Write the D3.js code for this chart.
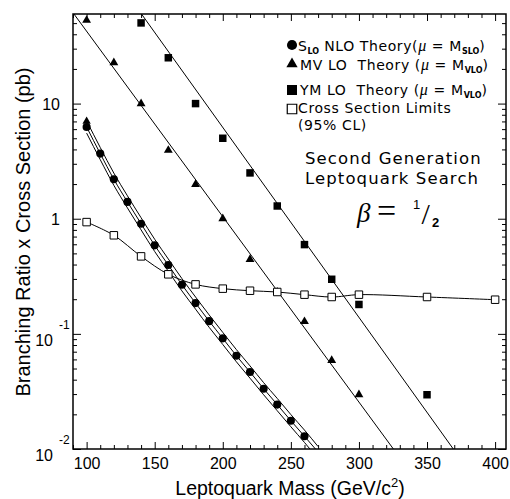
<html>
<head>
<script src="https://d3js.org/d3.v7.min.js"></script>
<style>
  body { margin: 0; background: #fff; }
  .fit { fill: none; stroke: #000; stroke-width: 1px; }
  .tick line { stroke: #000; stroke-width: 1px; }
  .lbl { font-family: "Liberation Sans", Arial, sans-serif; }
  .leg { font-family: "DejaVu Sans", sans-serif; }
</style>
</head>
<body>
<script>
// S_LO NLO theory points (circles) and band
var nloMass = [100,110,120,130,140,150,160,170,180,190,200,210,220,230,240,250,260];
var nloXsec = [6.26,3.68,2.2,1.40,0.905,0.587,0.396,0.267,0.185,0.129,0.0914,0.0646,0.0466,0.0334,0.0243,0.0176,0.0129];
var bandMass = [100,110,120,130,140,150,160,170,180,190,200,210,220,230,240,250,260,270];
var nloCentral = [6.26,3.68,2.2,1.40,0.905,0.587,0.396,0.267,0.185,0.129,0.0914,0.0646,0.0466,0.0334,0.0243,0.0176,0.0129,0.0094];
var nloUpper = [7.07,4.16,2.49,1.58,1.02,0.663,0.447,0.302,0.209,0.146,0.103,0.073,0.0527,0.0377,0.0275,0.0199,0.0146,0.0105];
var nloLower = [5.54,3.26,1.95,1.24,0.80,0.519,0.350,0.236,0.164,0.114,0.0809,0.0572,0.0412,0.0296,0.0215,0.0156,0.0114,0.0082];
var bandTipMass = [100];
var bandTip = [7.0];

// MV LO theory (triangles) and its fit
var mvMass = [100,120,140,160,180,200,220,240,260,280,300];
var mvXsec = [52.9,22.7,10.0,3.93,1.99,1.0,0.443,0.231,0.128,0.0589,0.0297];
var mvFitMass = [90.7, 325.3];
var mvFit = [60, 0.01];

// YM LO theory (filled squares) and its fit
var ymMass = [140,160,180,200,220,240,260,280,300,350];
var ymXsec = [50.2,25,10,5.0,2.5,1.29,0.596,0.298,0.18,0.0296];
var ymFitMass = [140.3, 369.3];
var ymFit = [60, 0.01];

// 95% CL cross section limits (open squares)
var limMass = [100,120,140,160,180,200,220,240,260,280,300,350,400];
var limXsec = [0.935,0.718,0.471,0.329,0.269,0.247,0.237,0.231,0.219,0.209,0.219,0.209,0.198];

var xMajor = [100,150,200,250,300,350,400];
var yMajor = [10, 1, 0.1, 0.01];
var yLabels = [["10",""],["1",""],["10","-1"],["10","-2"]];

var W = 510, H = 499;
var L = 73, R = 506, T = 14, B = 449;

var svg = d3.select("body").append("svg").attr("width", W).attr("height", H);

var x = d3.scaleLinear().domain([90, 408]).range([L, R]);
var y = d3.scaleLog().domain([0.01, 60]).range([B, T]);

var xMinor = d3.range(90, 409, 10).filter(function(v){ return xMajor.indexOf(v) < 0; });
var yMinor = y.ticks().filter(function(v){ return yMajor.indexOf(v) < 0 && v < 60; });

svg.append("clipPath").attr("id", "clip")
   .append("rect").attr("x", L).attr("y", T).attr("width", R - L).attr("height", B - T);

// axes (ticks pointing inward on all four sides)
function axisG(gen, tx, ty) {
    var g = svg.append("g").attr("transform", "translate(" + tx + "," + ty + ")").call(gen);
    g.select(".domain").remove();
    return g;
}
var bot = axisG(d3.axisBottom(x).tickValues(xMajor).tickSize(-7).tickPadding(9), 0, B);
bot.selectAll("text").attr("class", "lbl").style("font-size", "16px").attr("fill", "#000");
axisG(d3.axisBottom(x).tickValues(xMinor).tickSize(-4).tickFormat(""), 0, B);
axisG(d3.axisTop(x).tickValues(xMajor).tickSize(-7).tickFormat(""), 0, T);
axisG(d3.axisTop(x).tickValues(xMinor).tickSize(-4).tickFormat(""), 0, T);
axisG(d3.axisLeft(y).tickValues(yMajor).tickSize(-8).tickFormat(""), L, 0);
axisG(d3.axisLeft(y).tickValues(yMinor).tickSize(-4).tickFormat(""), L, 0);
axisG(d3.axisRight(y).tickValues(yMajor).tickSize(-8).tickFormat(""), R, 0);
axisG(d3.axisRight(y).tickValues(yMinor).tickSize(-4).tickFormat(""), R, 0);

// y tick labels with exponents
yMajor.forEach(function(v, i) {
    var lab = yLabels[i];
    if (lab[1] === "") {
        svg.append("text").attr("class", "lbl").attr("x", 60).attr("y", y(v) + 6)
           .attr("text-anchor", "end").style("font-size", "16px").text(lab[0]);
    } else {
        svg.append("text").attr("class", "lbl").attr("x", 53).attr("y", y(v) + 12)
           .attr("text-anchor", "end").style("font-size", "16px").text(lab[0]);
        svg.append("text").attr("class", "lbl").attr("x", 59).attr("y", y(v) - 5)
           .style("font-size", "12px").text(lab[1]);
    }
});

svg.append("rect").attr("x", L).attr("y", T).attr("width", R - L).attr("height", B - T)
   .attr("fill", "none").attr("stroke", "#000").attr("stroke-width", 1.5);

// axis titles
var xt = svg.append("text").attr("class", "lbl").attr("x", 290).attr("y", 495)
   .attr("text-anchor", "middle").style("font-size", "19.5px");
xt.append("tspan").text("Leptoquark Mass (GeV/c");
xt.append("tspan").attr("dy", -8).style("font-size", "13px").text("2");
xt.append("tspan").attr("dy", 8).text(")");

svg.append("text").attr("class", "lbl")
   .attr("transform", "translate(30,232) rotate(-90)")
   .attr("text-anchor", "middle").style("font-size", "20px")
   .text("Branching Ratio x Cross Section (pb)");

var plot = svg.append("g").attr("clip-path", "url(#clip)");

function pts(ms, vs) { return ms.map(function(m, i){ return [m, vs[i]]; }); }
var straight = d3.line().x(function(d){ return x(d[0]); }).y(function(d){ return y(d[1]); });
var smooth = d3.line().curve(d3.curveMonotoneX)
               .x(function(d){ return x(d[0]); }).y(function(d){ return y(d[1]); });

plot.append("path").attr("class", "fit").attr("d", straight(pts(mvFitMass, mvFit)));
plot.append("path").attr("class", "fit").attr("d", straight(pts(ymFitMass, ymFit)));
plot.append("path").attr("class", "fit").attr("d", smooth(pts(bandMass, nloCentral)));
plot.append("path").attr("class", "fit").attr("d", smooth(pts(bandMass, nloUpper)));
plot.append("path").attr("class", "fit").attr("d", smooth(pts(bandMass, nloLower)));
plot.append("path").attr("class", "fit").attr("d",
    d3.line().curve(d3.curveCatmullRom).x(function(d){ return x(d[0]); }).y(function(d){ return y(d[1]); })(pts(limMass, limXsec)));

function markers(ms, vs, type, size, filled) {
    plot.selectAll(null).data(pts(ms, vs)).enter().append("path")
        .attr("transform", function(d){ return "translate(" + x(d[0]) + "," + y(d[1]) + ")"; })
        .attr("d", d3.symbol().type(type).size(size))
        .attr("fill", filled ? "#000" : "#fff")
        .attr("stroke", "#000").attr("stroke-width", filled ? 0 : 1);
}
markers(bandTipMass, bandTip, d3.symbolTriangle, 30, true);
markers(nloMass, nloXsec, d3.symbolCircle, 52, true);
markers(mvMass, mvXsec, d3.symbolTriangle, 34, true);
markers(ymMass, ymXsec, d3.symbolSquare, 56, true);
markers(limMass, limXsec, d3.symbolSquare, 56, false);

// legend
var legSym = [
    [d3.symbolCircle, 80, true, 45],
    [d3.symbolTriangle, 55, true, 64],
    [d3.symbolSquare, 100, true, 90],
    [d3.symbolSquare, 90, false, 109]
];
legSym.forEach(function(s) {
    svg.append("path").attr("transform", "translate(292," + s[3] + ")")
       .attr("d", d3.symbol().type(s[0]).size(s[1]))
       .attr("fill", s[2] ? "#000" : "#fff").attr("stroke", "#000").attr("stroke-width", s[2] ? 0 : 1.2);
});

function legText(xp, yp, parts) {
    var t = svg.append("text").attr("class", "leg").attr("x", xp).attr("y", yp)
               .style("font-size", "14px").style("letter-spacing", "0.6px");
    var shift = 0;
    parts.forEach(function(p) {
        var sp = t.append("tspan").text(p[0]);
        var want = p[1] === "sub" ? 3 : 0;
        if (want !== shift) { sp.attr("dy", want - shift); shift = want; }
        if (p[1] === "sub") sp.style("font-size", "8px").style("font-weight", "bold").style("letter-spacing", "0px");
        if (p[1] === "mu") sp.style("font-family", "'Liberation Serif', serif").style("font-style", "italic").style("font-size", "16px");
    });
}
legText(298, 50.5, [["S",""],["LO","sub"],[" NLO Theory(",""],["\u03bc","mu"],[" = M",""],["SLO","sub"],[")",""]]);
legText(300, 69.5, [["MV LO\u00a0\u00a0Theory (",""],["\u03bc","mu"],[" = M",""],["VLO","sub"],[")",""]]);
legText(300, 95, [["YM LO\u00a0\u00a0Theory (",""],["\u03bc","mu"],[" = M",""],["VLO","sub"],[")",""]]);
legText(298, 113, [["Cross Section Limits",""]]);
legText(298, 130, [["(95% CL)",""]]);

svg.append("text").attr("class", "leg").attr("x", 305).attr("y", 164).style("font-size", "16.5px")
   .style("letter-spacing", "1.1px").text("Second Generation");
svg.append("text").attr("class", "leg").attr("x", 305).attr("y", 183.5).style("font-size", "16.5px")
   .style("letter-spacing", "1.1px").text("Leptoquark Search");

var serif = "'Liberation Serif', serif";
svg.append("text").attr("x", 357).attr("y", 222).style("font-family", serif).style("font-style", "italic")
   .style("font-size", "27px").text("\u03b2");
svg.append("text").attr("x", 377).attr("y", 222).style("font-family", serif).style("font-size", "34px").text("=");
svg.append("text").attr("x", 413).attr("y", 209).style("font-family", "'Liberation Sans', sans-serif")
   .style("font-size", "13px").text("1");
svg.append("text").attr("x", 421.5).attr("y", 224).style("font-family", serif).style("font-size", "30px").text("/");
svg.append("text").attr("x", 432).attr("y", 227).style("font-family", "'Liberation Sans', sans-serif")
   .style("font-size", "13px").style("font-weight", "bold").text("2");
</script>
</body>
</html>
